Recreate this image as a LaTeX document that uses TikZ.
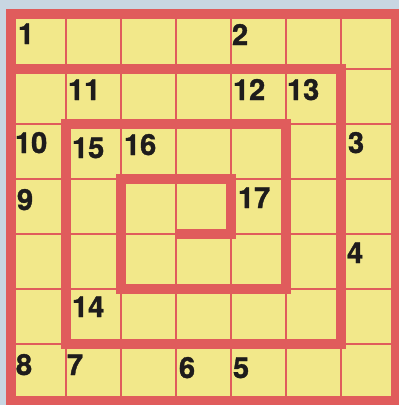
\documentclass[tikz,border=0pt]{standalone}
\usepackage{fontspec}
\setmainfont{TeX Gyre Heros}
\newfontfamily\numfont{texgyreheros-bold.otf}[FakeBold=1.2]
\definecolor{bgblue}{RGB}{200,214,226}
\definecolor{cellyellow}{RGB}{242,232,138}
\definecolor{gridred}{RGB}{224,92,92}
\definecolor{digit}{RGB}{30,28,28}
\tikzset{
  thinline/.style={draw=gridred, line width=2pt},
  thickline/.style={draw=gridred, line width=10pt, line join=miter},
  num/.style={anchor=base west, inner sep=0pt, outer sep=0pt, text=digit,
    font=\numfont\fontsize{29}{29}\selectfont},
}
\begin{document}
\begin{tikzpicture}[x=1pt,y=-1pt]
  \useasboundingbox (0,0) rectangle (399,405);
  \fill[bgblue] (0,0) rectangle (399,405);
  \fill[cellyellow] (11,14) rectangle (399,405);
  % thin grid lines
  \foreach \i in {1,...,6} {
    \draw[thinline] ({11+55*\i},14) -- ({11+55*\i},401);
    \draw[thinline] (11,{14+55*\i}) -- (396,{14+55*\i});
  }
  % outer border
  \draw[thickline] (11,14) rectangle (396,401);
  % spiral
  \draw[thickline] (11,69) -- (341,69) -- (341,344) -- (66,344) -- (66,124)
    -- (286,124) -- (286,289) -- (121,289) -- (121,179) -- (231,179)
    -- (231,234) -- (176,234);
  % numbers
  \node[num] (n1)  at (18,44)  {1};
  \node[num] (n2)  at (232,45) {2};
  \node[num] (n11) at (68,100) {11};
  \node[num] (n12) at (233,100) {12};
  \node[num] (n13) at (287,100) {13};
  \node[num] (n10) at (15,153) {10};
  \node[num] (n15) at (72,158) {15};
  \node[num] (n16) at (124,155) {16};
  \node[num] (n3)  at (348,153) {3};
  \node[num] (n9)  at (17,210) {9};
  \node[num] (n17) at (238,208) {17};
  \node[num] (n4)  at (347,263) {4};
  \node[num] (n14) at (72,317) {14};
  \node[num] (n8)  at (16,375) {8};
  \node[num] (n7)  at (67,375) {7};
  \node[num] (n6)  at (179,378) {6};
  \node[num] (n5)  at (233,378) {5};
\end{tikzpicture}
\end{document}
